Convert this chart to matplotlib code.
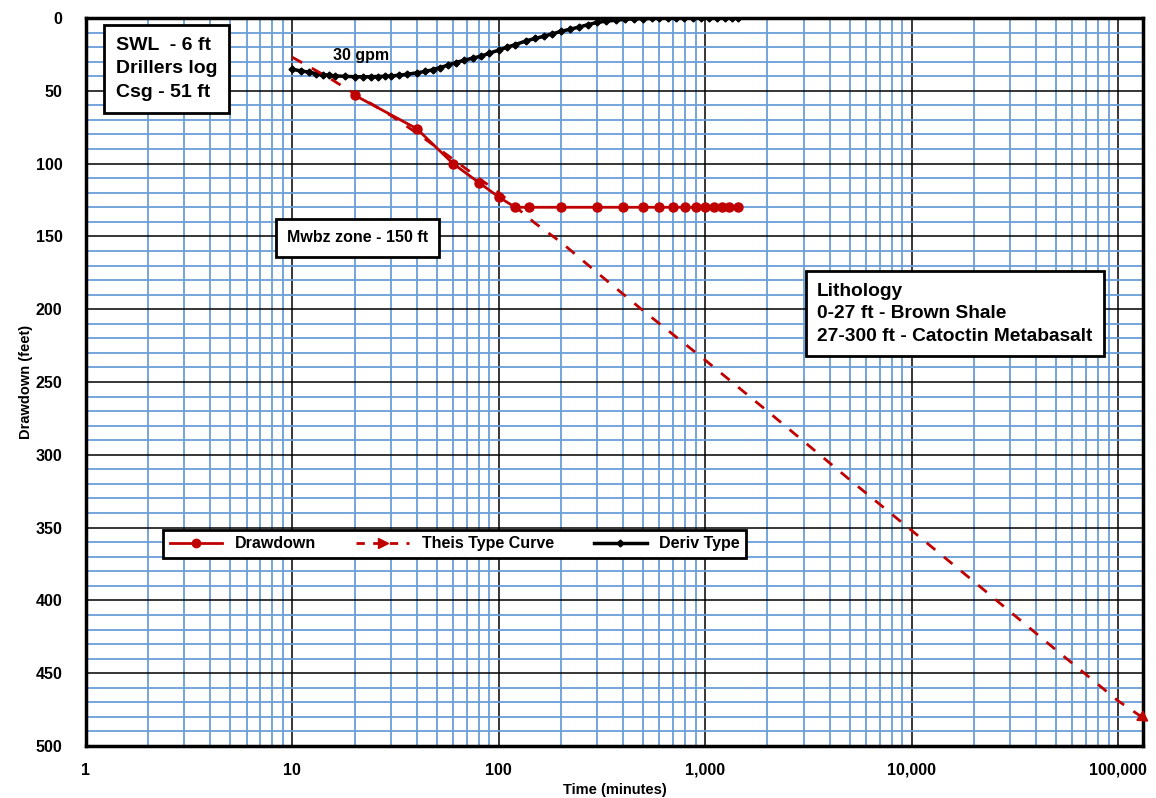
import numpy as np
import matplotlib
matplotlib.use("Agg")
import matplotlib.pyplot as plt
from matplotlib.ticker import FixedLocator, FuncFormatter, NullFormatter, MultipleLocator
from matplotlib.lines import Line2D

plt.rcParams['font.family'] = ['Liberation Sans', 'DejaVu Sans']
plt.rcParams['font.weight'] = 'bold'

# drawdown measurements (minutes, feet)
dd_t = [20, 40, 60, 80, 100, 120, 140, 200, 300, 400, 500, 600, 700, 800, 900,
        1000, 1100, 1200, 1300, 1440]
dd_y = [53, 76, 100, 113, 123, 130, 130, 130, 130, 130, 130, 130, 130, 130, 130,
        130, 130, 130, 130, 130]

# Theis type curve
theis_t = [10, 15, 20, 30, 40, 60, 80, 100, 150, 200, 300, 500, 1000, 2000, 5000,
           10000, 20000, 50000, 100000, 130000]
theis_y = [27, 41, 52, 67, 79, 97, 110, 120, 141, 154, 175, 201, 235, 270, 317,
           352, 387, 434, 469, 480]

# derivative type curve
deriv_t = [10, 11, 12, 13, 14, 15, 16, 18, 20, 22, 24, 26, 28, 30, 33, 36, 40, 44,
           48, 52, 57, 62, 68, 75, 82, 90, 100, 110, 120, 135, 150, 165, 180, 200,
           220, 245, 270, 300, 330, 370, 410, 450, 500, 550, 600, 660, 720, 790,
           870, 950, 1040, 1140, 1250, 1350, 1440]
deriv_y = [35.3, 36.3, 37.2, 38.2, 38.9, 39.3, 39.7, 40.1, 40.3, 40.4, 40.3, 40.2,
           40.0, 39.8, 39.3, 38.6, 37.7, 36.7, 35.5, 34.0, 32.3, 30.6, 29.0, 27.5,
           26.2, 24.2, 22.0, 20.0, 18.3, 15.8, 14.0, 12.6, 11.0, 9.2, 7.8, 6.2, 4.6,
           3.0, 2.2, 1.5, 0.9, 0.6, 0.4, 0.3, 0.2, 0.1, 0.1, 0.1, 0.1, 0.1, 0.1,
           0.1, 0.1, 0.1, 0.1]

x_ticks = [1, 10, 100, 1000, 10000, 100000]
y_ticks = [0, 50, 100, 150, 200, 250, 300, 350, 400, 450, 500]

red = '#C00000'
blue = '#6A9FD8'

fig = plt.figure(figsize=(11.56, 7.98), dpi=100)
ax = fig.add_axes([86/1156, 1 - 746/798, 1057/1156, 728/798])

ax.set_xscale('log')
ax.set_xlim(1, 1.32e5)
ax.set_ylim(500, 0)

# grid
ax.xaxis.set_major_locator(FixedLocator(x_ticks))
minors = [m * 10**d for d in range(0, 6) for m in range(2, 10)]
ax.xaxis.set_minor_locator(FixedLocator(minors))
ax.xaxis.set_minor_formatter(NullFormatter())
ax.xaxis.set_major_formatter(FuncFormatter(lambda v, p: '{:,}'.format(int(round(v)))))
ax.yaxis.set_major_locator(FixedLocator(y_ticks))
ax.yaxis.set_minor_locator(MultipleLocator(10))
ax.grid(which='minor', color=blue, lw=1.3, zorder=0)
ax.grid(which='major', color='black', lw=1.1, zorder=0.5)
ax.set_axisbelow(True)

for s in ax.spines.values():
    s.set_linewidth(2.5)
    s.set_color('black')

ax.tick_params(which='both', length=0)
ax.tick_params(axis='y', pad=17, labelsize=11.5)
ax.tick_params(axis='x', pad=12, labelsize=11.5)
for lab in ax.get_xticklabels() + ax.get_yticklabels():
    lab.set_fontweight('bold')

ax.set_xlabel('Time (minutes)', fontsize=10.5, fontweight='bold', labelpad=4)
ax.set_ylabel('Drawdown (feet)', fontsize=10.5, fontweight='bold', labelpad=2)

# curves
ax.plot(deriv_t, deriv_y, color='black', lw=2.5, marker='D', ms=3.5, zorder=3)
ax.plot(theis_t, theis_y, color=red, lw=2, ls=(0, (4, 4)), zorder=3)
ax.plot(dd_t, dd_y, color=red, lw=2, marker='o', ms=6.5, zorder=4)

# arrow head at end of Theis curve
fig.canvas.draw()
p1 = ax.transData.transform((theis_t[-2], theis_y[-2]))
p2 = ax.transData.transform((theis_t[-1], theis_y[-1]))
ang = np.degrees(np.arctan2(p2[1] - p1[1], p2[0] - p1[0]))
ax.plot([theis_t[-1]], [theis_y[-1]], marker=(3, 0, ang - 90), ms=9, color=red,
        ls='none', clip_on=False, zorder=5)

# text boxes
box = dict(boxstyle='square,pad=0.6', fc='white', ec='black', lw=2)
ax.text(0.028, 0.974, 'SWL  - 6 ft\nDrillers log\nCsg - 51 ft', transform=ax.transAxes,
        fontsize=14, fontweight='bold', va='top', ha='left', bbox=box,
        linespacing=1.5, zorder=6)
ax.text(0.6916, 0.636, 'Lithology\n0-27 ft - Brown Shale\n27-300 ft - Catoctin Metabasalt',
        transform=ax.transAxes, fontsize=13.8, fontweight='bold', va='top', ha='left',
        bbox=box, linespacing=1.42, zorder=6)
ax.text(0.19, 0.698, 'Mwbz zone - 150 ft', transform=ax.transAxes, fontsize=11.5,
        fontweight='bold', va='center', ha='left',
        bbox=dict(boxstyle='square,pad=0.7', fc='white', ec='black', lw=2), zorder=6)
ax.text(0.26, 0.949, '30 gpm', transform=ax.transAxes, fontsize=11.5,
        fontweight='bold', va='center', ha='center', zorder=6)

# legend
handles = [
    Line2D([], [], color=red, lw=2, marker='o', ms=6),
    Line2D([], [], color=red, lw=2, ls=(0, (3, 3)), marker='>', ms=7, markevery=[-1]),
    Line2D([], [], color='black', lw=2.5, marker='D', ms=3.5),
]
leg = ax.legend(handles, ['Drawdown', 'Theis Type Curve', 'Deriv Type'], ncol=3,
                loc='center', bbox_to_anchor=(0.349, 0.278), frameon=True,
                fancybox=False, edgecolor='black', framealpha=1,
                prop={'weight': 'bold', 'size': 11.5}, handlelength=3.3,
                columnspacing=2.5, borderpad=0.4)
leg.get_frame().set_linewidth(2)
leg.set_zorder(7)

fig.savefig('out.png', dpi=100)
